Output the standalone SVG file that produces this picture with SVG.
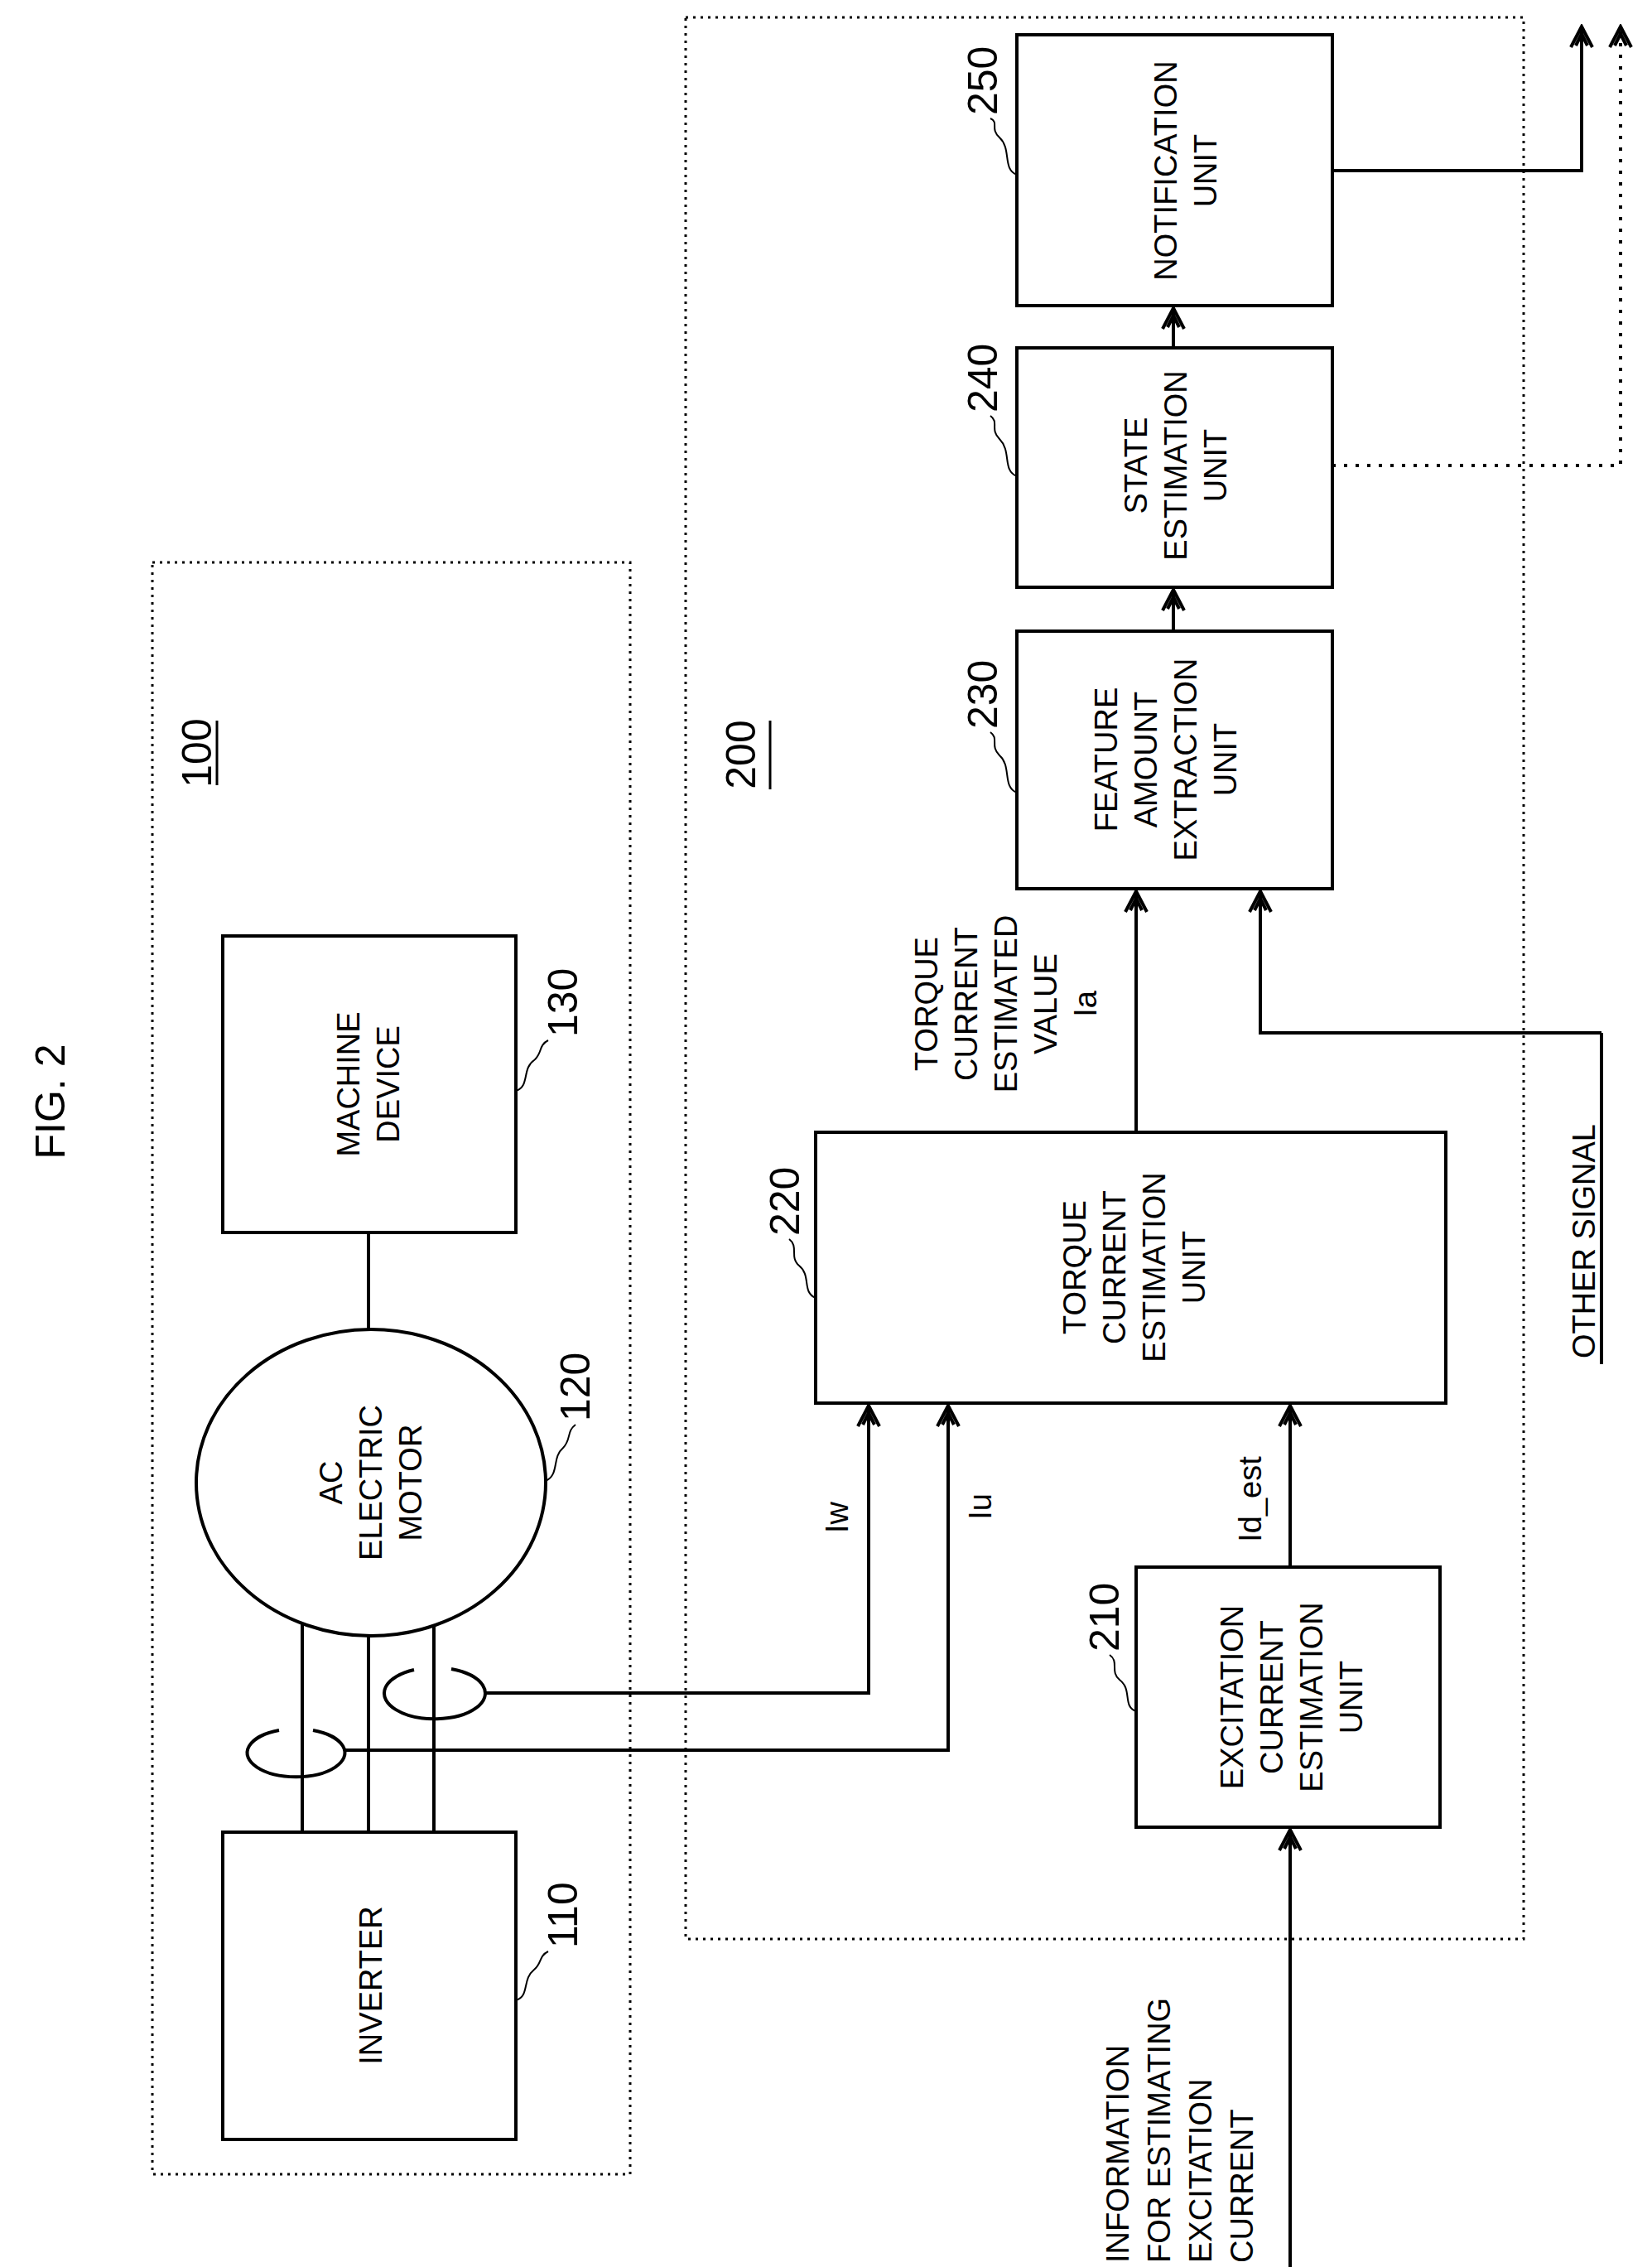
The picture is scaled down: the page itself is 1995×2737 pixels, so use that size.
<svg xmlns="http://www.w3.org/2000/svg" width="1995" height="2737" viewBox="0 0 1995 2737">
<defs>
<style>
.b{fill:#fff;stroke:#000;stroke-width:4}
.f{fill:none;stroke:#000;stroke-width:3;stroke-dasharray:3 6}
.l{fill:none;stroke:#000;stroke-width:4}
.d{fill:none;stroke:#000;stroke-width:4;stroke-dasharray:4 10}
.t{font-family:"Liberation Sans",Arial,sans-serif;font-size:38px;text-anchor:middle}
.n{font-family:"Liberation Sans",Arial,sans-serif;font-size:50px}
.ld{fill:none;stroke:#000;stroke-width:2}
</style>
<marker id="A" markerWidth="30" markerHeight="30" refX="26" refY="15" orient="auto" markerUnits="userSpaceOnUse" viewBox="0 0 30 30">
<path d="M2,2 L27,15 L2,28 M4,8 L18,15 L4,22" fill="none" stroke="#000" stroke-width="4"/>
</marker>
</defs>
<rect width="1995" height="2737" fill="#fff"/>
<text class="n" font-size="72" text-anchor="middle" transform="translate(78,1330) rotate(-90)">FIG. 2</text>
<g id="frame100"><rect class="f" x="184" y="679" width="577" height="1946"/>
<text class="n" text-anchor="middle" transform="translate(255,909) rotate(-90)">100</text><line x1="262" y1="870" x2="262" y2="948" stroke="#000" stroke-width="3"/></g>
<g id="frame200"><rect class="f" x="828" y="21" width="1012" height="2320"/>
<text class="n" text-anchor="middle" transform="translate(912,911) rotate(-90)">200</text><line x1="930" y1="870" x2="930" y2="953" stroke="#000" stroke-width="3"/></g>
<g id="connectors">
<line class="l" x1="445" y1="1488" x2="445" y2="1605"/>
<line class="l" x1="365" y1="1960" x2="365" y2="2212"/>
<line class="l" x1="445" y1="1975" x2="445" y2="2212"/>
<line class="l" x1="524" y1="1962" x2="524" y2="2212"/>
<path class="l" d="M337,2089 A59,29 0 1 0 378,2089"/>
<path class="l" d="M500,2016 A61,31 0 1 0 545,2015"/>
<path class="l" d="M584,2044 H1049 V1698" marker-end="url(#A)"/>
<path class="l" d="M417,2113 H1145 V1698" marker-end="url(#A)"/>
<path class="l" d="M1558,1892 V1698" marker-end="url(#A)"/>
<path class="l" d="M1558,2737 V2210" marker-end="url(#A)"/>
<path class="l" d="M1372,1367 V1077" marker-end="url(#A)"/>
<path class="l" d="M1934,1247 H1522 V1077" marker-end="url(#A)"/>
<line class="l" x1="1934" y1="1247" x2="1934" y2="1647"/>
<path class="l" d="M1417,762 V713" marker-end="url(#A)"/>
<path class="l" d="M1417,420 V373" marker-end="url(#A)"/>
<path class="l" d="M1609,206 H1910 V33" marker-end="url(#A)"/>
<path class="d" d="M1609,562 H1957 V33" marker-end="url(#A)"/>
</g>
<g id="n130"><rect class="b" x="269" y="1130" width="354" height="358"/>
<text class="t" transform="translate(445,1309) rotate(-90)"><tspan x="0" dy="-11">MACHINE</tspan><tspan x="0" dy="48">DEVICE</tspan></text>
<path class="ld" d="M623,1317 C640,1312 630,1290 645,1280 C655,1272 650,1262 662,1256"/><text class="n" transform="translate(697,1252) rotate(-90)">130</text></g>
<g id="n120"><ellipse class="b" cx="448" cy="1790" rx="211" ry="185"/>
<text class="t" transform="translate(448,1790) rotate(-90)"><tspan x="0" dy="-35">AC</tspan><tspan x="0" dy="48">ELECTRIC</tspan><tspan x="0" dy="48">MOTOR</tspan></text>
<path class="ld" d="M659,1788 C676,1780 666,1760 680,1748 C690,1738 684,1728 695,1720"/><text class="n" transform="translate(712,1716) rotate(-90)">120</text></g>
<g id="n110"><rect class="b" x="269" y="2212" width="354" height="371"/>
<text class="t" transform="translate(448,2397) rotate(-90)"><tspan x="0" dy="13">INVERTER</tspan></text>
<path class="ld" d="M623,2415 C640,2410 630,2390 645,2378 C655,2370 650,2362 662,2356"/><text class="n" transform="translate(697,2352) rotate(-90)">110</text></g>
<g id="n210"><rect class="b" x="1372" y="1892" width="367" height="314"/>
<text class="t" transform="translate(1560,2049) rotate(-90)"><tspan x="0" dy="-59">EXCITATION</tspan><tspan x="0" dy="48">CURRENT</tspan><tspan x="0" dy="48">ESTIMATION</tspan><tspan x="0" dy="48">UNIT</tspan></text>
<path class="ld" d="M1372,2066 C1355,2060 1368,2040 1352,2028 C1340,2018 1352,2006 1340,1998"/><text class="n" transform="translate(1351,1994) rotate(-90)">210</text></g>
<g id="n220"><rect class="b" x="985" y="1367" width="761" height="327"/>
<text class="t" transform="translate(1370,1530) rotate(-90)"><tspan x="0" dy="-59">TORQUE</tspan><tspan x="0" dy="48">CURRENT</tspan><tspan x="0" dy="48">ESTIMATION</tspan><tspan x="0" dy="48">UNIT</tspan></text>
<path class="ld" d="M985,1567 C968,1560 980,1540 965,1528 C953,1518 965,1505 953,1496"/><text class="n" transform="translate(965,1492) rotate(-90)">220</text></g>
<g id="n230"><rect class="b" x="1228" y="762" width="381" height="311"/>
<text class="t" transform="translate(1408,917) rotate(-90)"><tspan x="0" dy="-59">FEATURE</tspan><tspan x="0" dy="48">AMOUNT</tspan><tspan x="0" dy="48">EXTRACTION</tspan><tspan x="0" dy="48">UNIT</tspan></text>
<path class="ld" d="M1228,957 C1210,950 1222,925 1207,912 C1195,900 1207,892 1196,884"/><text class="n" transform="translate(1204,880) rotate(-90)">230</text></g>
<g id="n240"><rect class="b" x="1228" y="420" width="381" height="289"/>
<text class="t" transform="translate(1420,562) rotate(-90)"><tspan x="0" dy="-35">STATE</tspan><tspan x="0" dy="48">ESTIMATION</tspan><tspan x="0" dy="48">UNIT</tspan></text>
<path class="ld" d="M1228,575 C1210,568 1222,545 1207,530 C1195,518 1207,510 1196,502"/><text class="n" transform="translate(1204,498) rotate(-90)">240</text></g>
<g id="n250"><rect class="b" x="1228" y="42" width="381" height="327"/>
<text class="t" transform="translate(1432,206) rotate(-90)"><tspan x="0" dy="-11">NOTIFICATION</tspan><tspan x="0" dy="48">UNIT</tspan></text>
<path class="ld" d="M1228,211 C1210,204 1222,180 1207,166 C1195,155 1207,148 1196,143"/><text class="n" transform="translate(1204,139) rotate(-90)">250</text></g>
<g id="labels">
<text class="t" transform="translate(1215,1212) rotate(-90)"><tspan x="0" dy="-83">TORQUE</tspan><tspan x="0" dy="48">CURRENT</tspan><tspan x="0" dy="48">ESTIMATED</tspan><tspan x="0" dy="48">VALUE</tspan><tspan x="0" dy="48">Ia</tspan></text>
<text class="t" transform="translate(1024,1832) rotate(-90)">Iw</text>
<text class="t" transform="translate(1197,1819) rotate(-90)">Iu</text>
<text class="t" transform="translate(1523,1810) rotate(-90)">Id_est</text>
<text class="t" style="text-anchor:start" transform="translate(1363,2732) rotate(-90)"><tspan x="0" dy="0">INFORMATION</tspan><tspan x="0" dy="50">FOR ESTIMATING</tspan><tspan x="0" dy="50">EXCITATION</tspan><tspan x="0" dy="50">CURRENT</tspan></text>
<text class="t" style="text-anchor:start" transform="translate(1926,1640) rotate(-90)">OTHER SIGNAL</text>
</g>
</svg>
